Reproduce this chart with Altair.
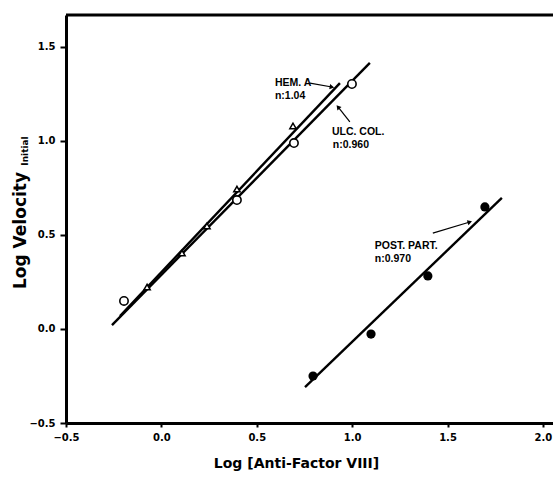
import altair as alt
import pandas as pd

FONT = "DejaVu Sans"
AFONT = "Liberation Sans"
XMIN, XMAX = -0.5, 2.053
YMIN, YMAX = -0.5, 1.67

# Data
ulc_x = [-0.196, 0.396, 0.695, 0.999]
ulc_y = [0.149, 0.686, 0.989, 1.303]
hem_x = [-0.075, 0.108, 0.239, 0.396, 0.690]
hem_y = [0.223, 0.404, 0.548, 0.744, 1.080]
post_x = [0.795, 1.099, 1.397, 1.696]
post_y = [-0.250, -0.027, 0.282, 0.649]

# Fitted lines (endpoints)
line_series = ["ULC", "ULC", "HEM", "HEM", "POST", "POST"]
line_x = [-0.259, 1.093, -0.217, 0.936, 0.753, 1.785]
line_y = [0.021, 1.415, 0.069, 1.308, -0.309, 0.697]

# Annotation labels
ann_text = ["HEM. A", "n:1.04", "ULC. COL.", "n:0.960", "POST. PART.", "n:0.970"]
ann_x = [0.595, 0.595, 0.894, 0.899, 1.119, 1.119]
ann_y = [1.308, 1.239, 1.048, 0.979, 0.441, 0.372]

# Arrows (start -> end)
arr_x1 = [0.779, 0.988, 1.423]
arr_y1 = [1.308, 1.101, 0.510]
arr_x2 = [0.894, 0.926, 1.617]
arr_y2 = [1.287, 1.181, 0.569]
arr_angle = [10, 231, 343]

xs = alt.Scale(domain=[XMIN, XMAX], nice=False, zero=False)
ys = alt.Scale(domain=[YMIN, YMAX], nice=False, zero=False)

xax = alt.Axis(values=[-0.5, 0.0, 0.5, 1.0, 1.5, 2.0], format=".1f", title="Log [Anti-Factor VIII]",
               grid=False, domainWidth=3, domainColor="black", tickWidth=2, tickColor="black",
               tickSize=4, labelPadding=5, labelFont=FONT, labelFontWeight="bold", labelFontSize=10,
               labelColor="black", titleFont=FONT, titleFontWeight="bold", titleFontSize=14,
               titleColor="black", titleX=230, titleY=40, titleBaseline="middle", labelFlush=False)
yax = alt.Axis(values=[-0.5, 0.0, 0.5, 1.0, 1.5], format=".1f", title="Log Velocity",
               grid=False, domainWidth=3, domainColor="black", tickWidth=2, tickColor="black",
               tickSize=6, labelPadding=5, labelFont=FONT, labelFontWeight="bold", labelFontSize=10,
               labelColor="black", titleFont=FONT, titleFontWeight="bold", titleFontSize=17,
               titleColor="black", titleX=-46, titleY=215, titleBaseline="middle", titleAngle=270,
               labelFlush=False)

lines_df = pd.DataFrame({"series": line_series, "x": line_x, "y": line_y})
lines = alt.Chart(lines_df).mark_line(color="black", strokeWidth=2.4).encode(
    x=alt.X("x:Q", scale=xs, axis=xax),
    y=alt.Y("y:Q", scale=ys, axis=yax),
    detail="series:N",
)

ulc = alt.Chart(pd.DataFrame({"x": ulc_x, "y": ulc_y})).mark_point(
    shape="circle", size=70, filled=True, fill="white", stroke="black", strokeWidth=1.6, opacity=1
).encode(x=alt.X("x:Q", scale=xs), y=alt.Y("y:Q", scale=ys))

hem = alt.Chart(pd.DataFrame({"x": hem_x, "y": hem_y})).mark_point(
    shape="triangle-up", size=40, filled=True, fill="white", stroke="black", strokeWidth=1.5, opacity=1
).encode(x=alt.X("x:Q", scale=xs), y=alt.Y("y:Q", scale=ys))

post = alt.Chart(pd.DataFrame({"x": post_x, "y": post_y})).mark_point(
    shape="circle", size=85, filled=True, color="black", opacity=1
).encode(x=alt.X("x:Q", scale=xs), y=alt.Y("y:Q", scale=ys))

ann = alt.Chart(pd.DataFrame({"t": ann_text, "x": ann_x, "y": ann_y})).mark_text(
    font=AFONT, fontWeight="bold", fontSize=10.5, align="left", baseline="middle", color="black"
).encode(x=alt.X("x:Q", scale=xs), y=alt.Y("y:Q", scale=ys), text="t:N")

arr_df = pd.DataFrame({"x1": arr_x1, "y1": arr_y1, "x2": arr_x2, "y2": arr_y2, "a": arr_angle})
arr_lines = alt.Chart(arr_df).mark_rule(color="black", strokeWidth=1.2).encode(
    x=alt.X("x1:Q", scale=xs), y=alt.Y("y1:Q", scale=ys), x2="x2:Q", y2="y2:Q")
arr_heads = alt.Chart(arr_df).mark_point(shape="triangle-right", size=28, filled=True,
                                         color="black", opacity=1).encode(
    x=alt.X("x2:Q", scale=xs), y=alt.Y("y2:Q", scale=ys),
    angle=alt.Angle("a:Q", scale=None))

top_border = alt.Chart(pd.DataFrame({"x": [XMIN], "x2": [XMAX], "y": [YMAX]})).mark_rule(
    color="black", strokeWidth=3).encode(
    x=alt.X("x:Q", scale=xs), x2="x2:Q", y=alt.Y("y:Q", scale=ys))

sub = alt.Chart(pd.DataFrame({"t": ["Initial"]})).mark_text(
    font=FONT, fontWeight="bold", fontSize=9, angle=270, baseline="middle", align="center",
    color="black").encode(x=alt.value(-41), y=alt.value(136), text="t:N")

chart = alt.layer(top_border, lines, arr_lines, arr_heads, ulc, hem, post, ann, sub).properties(
    width=487, height=408,
    autosize=alt.AutoSizeParams(type="none"),
    padding={"left": 66, "top": 15, "right": 0, "bottom": 54},
    background="white",
).configure_view(stroke=None)

chart.save("out.html", embed_options={"renderer": "svg", "actions": False})
